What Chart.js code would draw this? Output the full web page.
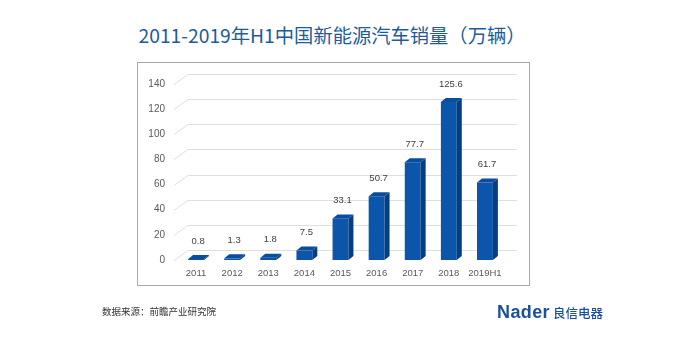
<!DOCTYPE html>
<html><head><meta charset="utf-8">
<script src="https://cdn.jsdelivr.net/npm/chart.js@4.4.1/dist/chart.umd.min.js"></script>
<style>
html,body{margin:0;padding:0;background:#fff;width:689px;height:357px;overflow:hidden;position:relative;}
#c{position:absolute;left:0;top:0;}
#title{position:absolute;left:0;width:664px;top:22px;text-align:center;font:19.3px "Noto Sans CJK SC",sans-serif;color:#1c5c9c;line-height:26px;white-space:nowrap;}
#box{position:absolute;left:137px;top:62px;width:391px;height:222px;border:1px solid #a8a8a8;}
#src{position:absolute;left:102px;top:304px;font:9.5px "Noto Sans CJK SC",sans-serif;color:#333;white-space:nowrap;}
#logo{position:absolute;left:497px;top:302px;white-space:nowrap;color:#1a4f9f;}
#logo .n{font:bold 18px "Liberation Sans",sans-serif;letter-spacing:0.4px;}
#logo .c{font:500 12.5px "Noto Sans CJK SC",sans-serif;margin-left:3px;}
</style></head><body>
<div id="title">2011-2019年H1中国新能源汽车销量（万辆）</div>
<div id="box"></div>
<canvas id="c" width="689" height="357"></canvas>
<div id="src">数据来源：前瞻产业研究院</div>
<div id="logo"><span class="n">Nader</span><span class="c">良信电器</span></div>
<script>
const categories = ["2011","2012","2013","2014","2015","2016","2017","2018","2019H1"];
const sales = [0.8, 1.3, 1.8, 7.5, 33.1, 50.7, 77.7, 125.6, 61.7];
const yTicks = [0, 20, 40, 60, 80, 100, 120, 140];

const DX = 5, DY = 4;
const bars3d = {
  id: 'bars3d',
  beforeDatasetsDraw(chart) {
    const ctx = chart.ctx, ys = chart.scales.y, area = chart.chartArea;
    ctx.save();
    ctx.strokeStyle = '#dedede';
    ctx.lineWidth = 1;
    yTicks.forEach(v => {
      const y = Math.round(ys.getPixelForValue(v)) + 0.5;
      ctx.beginPath();
      ctx.moveTo(area.left - 4, y);
      ctx.lineTo(area.left + 10, y - 10);
      ctx.lineTo(area.right + 14, y - 10);
      ctx.stroke();
    });
    ctx.restore();
  },
  afterDatasetsDraw(chart) {
    const ctx = chart.ctx;
    const meta = chart.getDatasetMeta(0);
    ctx.save();
    meta.data.forEach((bar, i) => {
      const p = bar.getProps(['x','y','base','width'], true);
      const l = p.x - p.width/2, r = p.x + p.width/2, t = p.y, b = p.base;
      ctx.fillStyle = '#063f7f';
      ctx.beginPath();
      ctx.moveTo(r, t); ctx.lineTo(r+DX, t-DY); ctx.lineTo(r+DX, b-DY); ctx.lineTo(r, b); ctx.closePath();
      ctx.fill();
      ctx.fillStyle = '#0a4d9c';
      ctx.beginPath();
      ctx.moveTo(l, t); ctx.lineTo(l+DX, t-DY); ctx.lineTo(r+DX, t-DY); ctx.lineTo(r, t); ctx.closePath();
      ctx.fill();
      ctx.fillStyle = '#404040';
      ctx.font = '9.5px "Liberation Sans", sans-serif';
      ctx.textAlign = 'center';
      ctx.textBaseline = 'middle';
      ctx.fillText(String(sales[i]), p.x + 2, t - DY - 14);
    });
    ctx.restore();
  }
};

new Chart(document.getElementById('c'), {
  type: 'bar',
  data: { labels: categories, datasets: [{ data: sales, backgroundColor: '#0b55ab', borderWidth: 0, categoryPercentage: 1, barPercentage: 0.44, clip: false }] },
  options: {
    responsive: false, animation: false,
    layout: { padding: { left: 138, right: 186, top: 84, bottom: 72 } },
    plugins: { legend: { display: false }, tooltip: { enabled: false }, title: { display: false } },
    scales: {
      x: {
        grid: { display: false, drawTicks: false }, border: { display: false },
        ticks: { color: '#595959', font: { size: 9.5, family: '"Liberation Sans", sans-serif' }, padding: 8, maxRotation: 0, autoSkip: false },
        afterFit(s) { s.height = 25; }
      },
      y: {
        min: 0, max: 140,
        grid: { display: false, drawTicks: false }, border: { display: false },
        afterBuildTicks(s) { s.ticks = yTicks.map(v => ({ value: v })); },
        ticks: { color: '#595959', font: { size: 10, family: '"Liberation Sans", sans-serif' }, padding: 13 },
        afterFit(s) { s.width = 40; }
      }
    }
  },
  plugins: [bars3d]
});
</script>
</body></html>
